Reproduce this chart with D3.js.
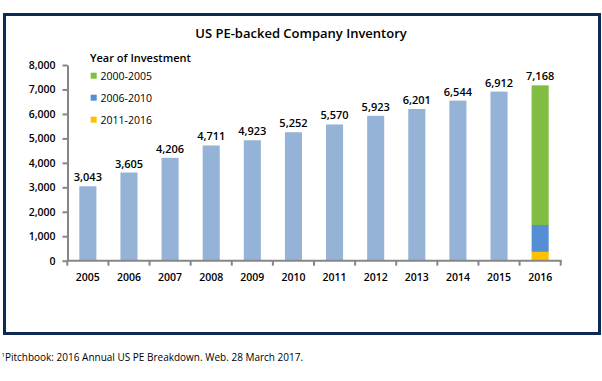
<!DOCTYPE html>
<html>
<head>
<meta charset="utf-8">
<script src="https://cdnjs.cloudflare.com/ajax/libs/d3/7.8.5/d3.min.js"></script>
<style>
  html, body { margin: 0; padding: 0; background: #fff; }
  svg { display: block; }
  text { font-family: "Open Sans", "Noto Sans", sans-serif; fill: #000; }
</style>
</head>
<body>
<svg id="chart" width="602" height="381"></svg>
<script>
// ---- data ----
const years = ["2005","2006","2007","2008","2009","2010","2011","2012","2013","2014","2015","2016"];
const totals = [3043, 3605, 4206, 4711, 4923, 5252, 5570, 5923, 6201, 6544, 6912, 7168];
const breakdownNames = ["2011-2016", "2006-2010", "2000-2005"];   // stacking order bottom -> top
const breakdown2016 = [360, 1100, 5708];
const legendNames = ["2000-2005", "2006-2010", "2011-2016"];
const yTicks = [0, 1000, 2000, 3000, 4000, 5000, 6000, 7000, 8000];

const colors = { "2000-2005": "#80BD41", "2006-2010": "#558ED5", "2011-2016": "#FFC000" };
const baseColor = "#95B3D7";

const svg = d3.select("#chart");

// frame
svg.append("rect").attr("x", 4.5).attr("y", 14.5).attr("width", 595).attr("height", 319)
  .attr("fill", "none").attr("stroke", "#0D2A55").attr("stroke-width", 3);

// scales
const x = d3.scaleBand().domain(years).range([67.3, 560.7]).paddingInner(0.585).paddingOuter(0.2925);
const y = d3.scaleLinear().domain([0, 8000]).range([260.7, 65]);

// title
svg.append("text").attr("x", 301).attr("y", 38).attr("text-anchor", "middle")
  .attr("font-size", 13).attr("font-weight", 600).text("US PE-backed Company Inventory");

// y axis
const yAxis = svg.append("g").attr("transform", "translate(67.5,0)")
  .call(d3.axisLeft(y).tickValues(yTicks).tickSize(5).tickSizeOuter(0).tickFormat(d3.format(",")));
yAxis.select(".domain").attr("stroke", "#868686").attr("stroke-width", 2);
yAxis.selectAll(".tick line").attr("stroke", "#868686").attr("stroke-width", 2);
yAxis.selectAll(".tick text").attr("x", -12).attr("font-size", 10.5).attr("font-weight", 600)
  .attr("fill", "#000").style("font-family", '"Open Sans", sans-serif');

// bars (non-stacked years)
const single = years.map((yr, i) => ({ year: yr, value: totals[i] })).filter(d => d.year !== "2016");
svg.append("g").selectAll("rect").data(single).join("rect")
  .attr("x", d => x(d.year)).attr("width", x.bandwidth())
  .attr("y", d => y(d.value)).attr("height", d => y(0) - y(d.value))
  .attr("fill", baseColor);

// stacked 2016
const stackRow = { year: "2016" };
breakdownNames.forEach((n, i) => stackRow[n] = breakdown2016[i]);
const stacked = d3.stack().keys(breakdownNames)([stackRow]);
svg.append("g").selectAll("rect").data(stacked).join("rect")
  .attr("x", x("2016")).attr("width", x.bandwidth())
  .attr("y", d => y(d[0][1])).attr("height", d => y(d[0][0]) - y(d[0][1]))
  .attr("fill", d => colors[d.key]);

// x axis
const xAxisG = svg.append("g").attr("transform", "translate(0,260.7)");
xAxisG.append("line").attr("x1", 67.3).attr("x2", 561.7).attr("y1", 0).attr("y2", 0)
  .attr("stroke", "#868686").attr("stroke-width", 2);
const bounds = d3.range(years.length + 1).map(i => 67.3 + i * x.step());
xAxisG.selectAll("line.tk").data(bounds).join("line").attr("class", "tk")
  .attr("x1", d => d).attr("x2", d => d).attr("y1", 0).attr("y2", 5)
  .attr("stroke", "#868686").attr("stroke-width", 2);
xAxisG.selectAll("text").data(years).join("text")
  .attr("x", d => x(d) + x.bandwidth() / 2).attr("y", 20.5)
  .attr("text-anchor", "middle").attr("font-size", 10.5).attr("font-weight", 600).text(d => d);

// value labels
svg.append("g").selectAll("text").data(years.map((yr, i) => ({ year: yr, value: totals[i] }))).join("text")
  .attr("x", d => x(d.year) + x.bandwidth() / 2).attr("y", d => y(d.value) - 5)
  .attr("text-anchor", "middle").attr("font-size", 11).attr("font-weight", 600)
  .text(d => d3.format(",")(d.value));

// legend
const lg = svg.append("g");
lg.append("text").attr("x", 90).attr("y", 62).attr("font-size", 11).attr("font-weight", 600)
  .text("Year of Investment");
legendNames.forEach((n, i) => {
  lg.append("rect").attr("x", 90.7).attr("y", 72.7 + i * 22).attr("width", 6).attr("height", 6)
    .attr("fill", colors[n]);
  lg.append("text").attr("x", 100.5).attr("y", 79.5 + i * 22).attr("font-size", 10.5).text(n);
});

// footnote
const fn = svg.append("text").attr("x", 1.5).attr("y", 360.5).attr("font-size", 10).attr("fill", "#111");
fn.append("tspan").attr("font-size", 6).attr("dy", -4).text("1");
fn.append("tspan").attr("dy", 4).text("Pitchbook: 2016 Annual US PE Breakdown. Web. 28 March 2017.");
</script>
</body>
</html>
